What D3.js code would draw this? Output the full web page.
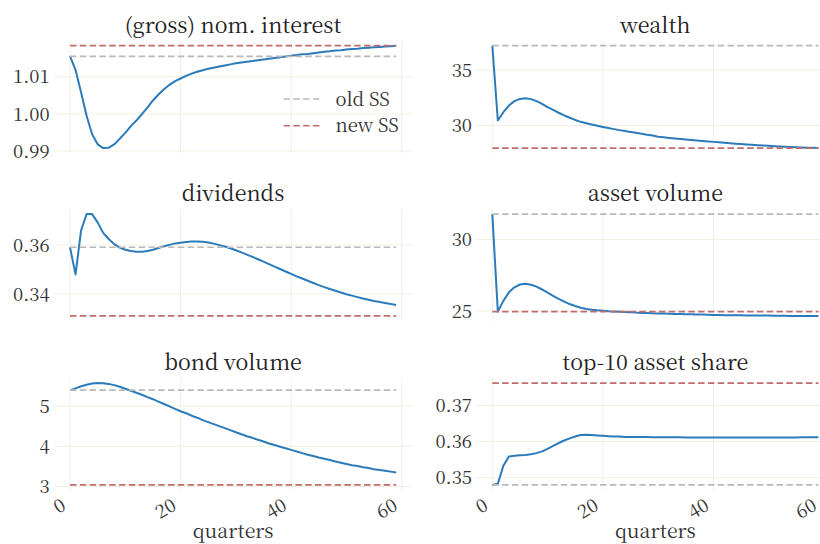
<!DOCTYPE html>
<html><head><meta charset="utf-8">
<script src="https://cdn.jsdelivr.net/npm/d3@7"></script>
<style>
body{margin:0;background:#fff}
svg{display:block}
</style>
</head><body>
<svg id="c" width="820" height="544"></svg>
<script>
// ---------------- data ----------------
const quarters = d3.range(0, 60);
const xTicks = [0, 20, 40, 60];

const titles = ["(gross) nom. interest", "wealth", "dividends", "asset volume", "bond volume", "top-10 asset share"];

const interest = [1.0155,1.0118,1.0058,0.9995,0.9945,0.9918,0.9908,0.9909,0.9918,0.9933,
  0.9949,0.9967,0.9982,0.9999,1.0017,1.0036,1.0052,1.0066,1.0078,1.0088,
  1.0095,1.0102,1.0108,1.0113,1.0117,1.0121,1.0124,1.0127,1.0130,1.0133,
  1.0136,1.0138,1.0140,1.0142,1.0144,1.0146,1.0148,1.0150,1.0152,1.0154,
  1.0156,1.0158,1.0160,1.0161,1.0163,1.0165,1.0167,1.0168,1.0170,1.0171,
  1.0173,1.0174,1.0175,1.0177,1.0178,1.0179,1.0180,1.0181,1.0182,1.0183];
const wealth = [37.21,30.45,31.2,31.8,32.2,32.4,32.45,32.38,32.2,31.95,
  31.65,31.4,31.15,30.92,30.7,30.5,30.33,30.2,30.08,29.97,
  29.87,29.77,29.67,29.58,29.5,29.42,29.34,29.26,29.16,29.09,
  28.98,28.93,28.88,28.83,28.78,28.74,28.69,28.65,28.6,28.56,
  28.52,28.48,28.44,28.4,28.36,28.33,28.29,28.26,28.22,28.19,
  28.16,28.13,28.11,28.08,28.05,28.03,28.01,28.0,27.98,27.97];
const dividends = [0.3591,0.3480,0.3660,0.3727,0.3727,0.3693,0.3650,0.3625,0.3604,0.3590,
  0.3581,0.3576,0.3573,0.3573,0.3576,0.3581,0.3588,0.3595,0.3601,0.3607,
  0.3610,0.3613,0.3615,0.3615,0.3614,0.3611,0.3606,0.3600,0.3594,0.3587,
  0.3579,0.3570,0.3561,0.3552,0.3542,0.3532,0.3522,0.3512,0.3502,0.3492,
  0.3482,0.3472,0.3463,0.3454,0.3445,0.3436,0.3428,0.3420,0.3413,0.3406,
  0.3399,0.3393,0.3387,0.3381,0.3376,0.3371,0.3367,0.3363,0.3359,0.3355];
const assetVolume = [31.78,24.95,25.7,26.3,26.65,26.85,26.9,26.83,26.7,26.5,
  26.28,26.05,25.84,25.65,25.48,25.34,25.22,25.14,25.08,25.04,
  25.01,24.98,24.96,24.94,24.92,24.9,24.88,24.86,24.85,24.83,
  24.82,24.81,24.8,24.79,24.78,24.77,24.76,24.75,24.74,24.73,
  24.72,24.71,24.7,24.7,24.69,24.69,24.68,24.68,24.67,24.67,
  24.67,24.66,24.66,24.66,24.65,24.65,24.65,24.65,24.65,24.65];
const bondVolume = [5.39,5.44,5.49,5.53,5.56,5.57,5.565,5.55,5.52,5.48,
  5.43,5.38,5.33,5.28,5.22,5.17,5.11,5.05,4.99,4.93,
  4.87,4.82,4.76,4.71,4.65,4.60,4.55,4.50,4.45,4.40,
  4.35,4.30,4.25,4.21,4.16,4.12,4.07,4.03,3.99,3.95,
  3.91,3.87,3.83,3.79,3.76,3.72,3.69,3.66,3.62,3.59,
  3.56,3.53,3.51,3.48,3.46,3.43,3.41,3.39,3.37,3.35];
const top10Share = [0.3480,0.3483,0.3533,0.3559,0.3561,0.3562,0.3563,0.3565,0.3568,0.3573,
  0.3580,0.3588,0.3596,0.3603,0.3609,0.3614,0.3618,0.3619,0.3618,0.3617,
  0.3616,0.3615,0.3614,0.3614,0.3613,0.3613,0.3613,0.3613,0.3613,0.3612,
  0.3612,0.3612,0.3612,0.3612,0.3612,0.3611,0.3611,0.3611,0.3611,0.3611,
  0.3611,0.3611,0.3611,0.3611,0.3611,0.3611,0.3611,0.3611,0.3611,0.3611,
  0.3611,0.3611,0.3611,0.3611,0.3611,0.3611,0.3612,0.3612,0.3612,0.3612];

const oldSS = [1.01545, 37.21, 0.3591, 31.78, 5.395, 0.3480];
const newSS = [1.01834, 27.96, 0.3310, 24.95, 3.04, 0.3762];

const yTicks = [[0.99,1.00,1.01],[30,35],[0.34,0.36],[25,30],[3,4,5],[0.35,0.36,0.37]];
const yFormats = [".2f","d",".2f","d","d",".2f"];
const legendLabels = ["old SS", "new SS"];
const seriesList = [interest, wealth, dividends, assetVolume, bondVolume, top10Share];

// ---------------- layout ----------------
const FONT = "'Noto Serif CJK SC', 'Liberation Serif', fantasy";
const colX = [[53.7, 412.5], [476, 834.7]];
const rowY = [[40.5, 153.2], [209, 321], [378, 490]];
const C_LINE = "#2b7bba", C_OLD = "#b9b9b9", C_NEW = "#c06c6c", C_GRID = "#f3f0e3";
const C_TEXT = "#333333";

const svg = d3.select("#c");

seriesList.forEach((vals, i) => {
  const col = i % 2, row = Math.floor(i / 2);
  const [x0, x1] = colX[col], [y0, y1] = rowY[row];
  const x = d3.scaleLinear().domain([-2.95, 61.95]).range([x0, x1]);
  const all = vals.concat([oldSS[i], newSS[i]]);
  const [mn, mx] = d3.extent(all);
  const pad = (mx - mn) * 0.05;
  const y = d3.scaleLinear().domain([mn - pad, mx + pad]).range([y1, y0]);
  const g = svg.append("g");

  // grid
  g.append("g").selectAll("line").data(xTicks).join("line")
    .attr("x1", d => x(d)).attr("x2", d => x(d)).attr("y1", y0).attr("y2", y1)
    .attr("stroke", C_GRID).attr("stroke-width", 1);
  g.append("g").selectAll("line").data(yTicks[i]).join("line")
    .attr("x1", x0).attr("x2", x1).attr("y1", d => y(d)).attr("y2", d => y(d))
    .attr("stroke", C_GRID).attr("stroke-width", 1);

  // y tick labels
  const fmt = d3.format(yFormats[i]);
  g.append("g").selectAll("text").data(yTicks[i]).join("text")
    .attr("x", x0 - 4).attr("y", d => y(d)).attr("dy", "0.36em")
    .attr("text-anchor", "end").attr("font-size", 18.5).attr("fill", C_TEXT)
    .attr("font-family", FONT)
    .text(d => fmt(d));

  // series line
  const line = d3.line().x((d, k) => x(quarters[k])).y(d => y(d));
  g.append("path").datum(vals).attr("d", line)
    .attr("fill", "none").attr("stroke", C_LINE).attr("stroke-width", 2)
    .attr("stroke-linejoin", "round");

  // steady states
  const ssLine = v => d3.line().x(d => x(d)).y(() => y(v))([quarters[0], quarters[quarters.length - 1]]);
  g.append("path").attr("d", ssLine(oldSS[i])).attr("fill", "none")
    .attr("stroke", C_OLD).attr("stroke-width", 1.6).attr("stroke-dasharray", "6.5,3.3");
  g.append("path").attr("d", ssLine(newSS[i])).attr("fill", "none")
    .attr("stroke", C_NEW).attr("stroke-width", 1.6).attr("stroke-dasharray", "6.5,3.3");

  // title
  g.append("text").attr("x", (x0 + x1) / 2).attr("y", y0 - 8)
    .attr("text-anchor", "middle").attr("font-size", 21.5).attr("fill", "#222")
    .attr("font-family", FONT)
    .text(titles[i]);

  // x ticks on bottom row
  if (row === 2) {
    g.append("g").selectAll("text").data(xTicks).join("text")
      .attr("transform", d => `translate(${Math.min(x(d) - 3, 818)},${y1 + 19}) rotate(-30)`)
      .attr("text-anchor", "end").attr("font-size", 18.5).attr("fill", C_TEXT)
      .attr("font-family", FONT)
      .text(d => d);
    g.append("text").attr("x", (x0 + x1) / 2).attr("y", 538)
      .attr("text-anchor", "middle").attr("font-size", 19.5).attr("fill", C_TEXT)
      .attr("font-family", FONT)
      .text("quarters");
  }

  // legend in first panel
  if (i === 0) {
    const lg = g.append("g");
    [C_OLD, C_NEW].forEach((c, k) => {
      const ly = 99 + k * 26.7;
      lg.append("line").attr("x1", x1 - 129).attr("x2", x1 - 90).attr("y1", ly).attr("y2", ly)
        .attr("stroke", c).attr("stroke-width", 1.6).attr("stroke-dasharray", "6.5,3.3");
      lg.append("text").attr("x", x1 - 77).attr("y", ly).attr("dy", "0.36em")
        .attr("font-size", 18.5).attr("fill", C_TEXT).attr("font-family", FONT)
        .text(legendLabels[k]);
    });
  }
});
</script>
</body></html>
